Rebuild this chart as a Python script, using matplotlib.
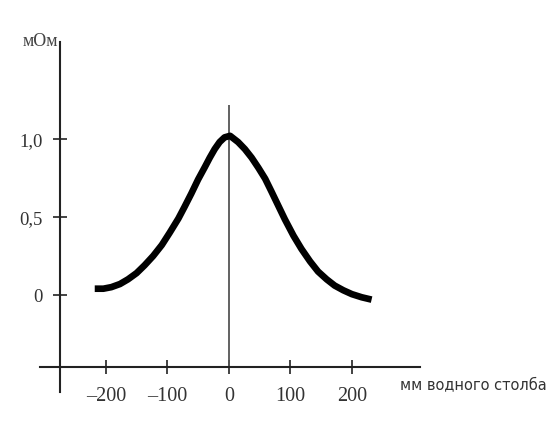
import matplotlib.pyplot as plt

# данные кривой (мм водного столба -> мОм)
pressure = [-218, -204, -191, -177, -164, -150, -137, -123, -109, -96,
            -82, -72, -61, -50, -39, -31, -23, -15, -7, 2,
            15, 26, 37, 48, 59, 69, 80, 91, 105, 118,
            132, 145, 159, 172, 186, 200, 216, 232]
resist = [0.04, 0.04, 0.05, 0.07, 0.10, 0.14, 0.19, 0.25, 0.32, 0.40,
          0.49, 0.565, 0.65, 0.74, 0.82, 0.88, 0.935, 0.98, 1.01, 1.02,
          0.98, 0.935, 0.88, 0.815, 0.745, 0.665, 0.575, 0.485, 0.38, 0.295,
          0.215, 0.15, 0.10, 0.06, 0.03, 0.005, -0.015, -0.03]

x_ticks = [-200, -100, 0, 100, 200]
x_labels = ['\u2013200', '\u2013100', '0', '100', '200']
y_ticks = [0, 0.5, 1.0]
y_labels = ['0', '0,5', '1,0']

plt.rcParams['font.family'] = ['Liberation Serif', 'DejaVu Serif']

fig = plt.figure(figsize=(5.58, 4.39), dpi=100)
ax = fig.add_axes([0, 0, 1, 1])
ax.set_xlim(-372, 535)
ax.set_ylim(-0.917, 1.897)

# оси
ax.spines['top'].set_visible(False)
ax.spines['right'].set_visible(False)
ax.spines['left'].set_position(('data', -275))
ax.spines['bottom'].set_position(('data', -0.46))
ax.spines['left'].set_bounds(-0.62, 1.62)
ax.spines['bottom'].set_bounds(-307, 310)
for s in ['left', 'bottom']:
    ax.spines[s].set_linewidth(1.5)
    ax.spines[s].set_color('#222222')

ax.set_xticks(x_ticks)
ax.set_xticklabels(x_labels)
ax.set_yticks(y_ticks)
ax.set_yticklabels(y_labels)
ax.tick_params(axis='both', direction='inout', length=10, width=1.2,
               colors='#222222')
ax.tick_params(axis='x', pad=9, labelsize=14.5, labelcolor='#333333')
ax.tick_params(axis='y', pad=7, labelsize=13.5, labelcolor='#333333')

# вертикальная линия через ноль
ax.vlines(0, -0.46, 1.22, color='#555555', linewidth=1.3)

# кривая
ax.plot(pressure, resist, color='black', linewidth=4.8,
        solid_capstyle='butt', solid_joinstyle='round')

ax.text(278, -0.57, 'мм водного столба', fontsize=10.5, ha='left', va='center',
        color='#333333', family='DejaVu Sans')
ax.text(-307, 1.63, 'мОм', fontsize=13, ha='center', va='center', color='#444444')

fig.savefig('out.png', dpi=100)
